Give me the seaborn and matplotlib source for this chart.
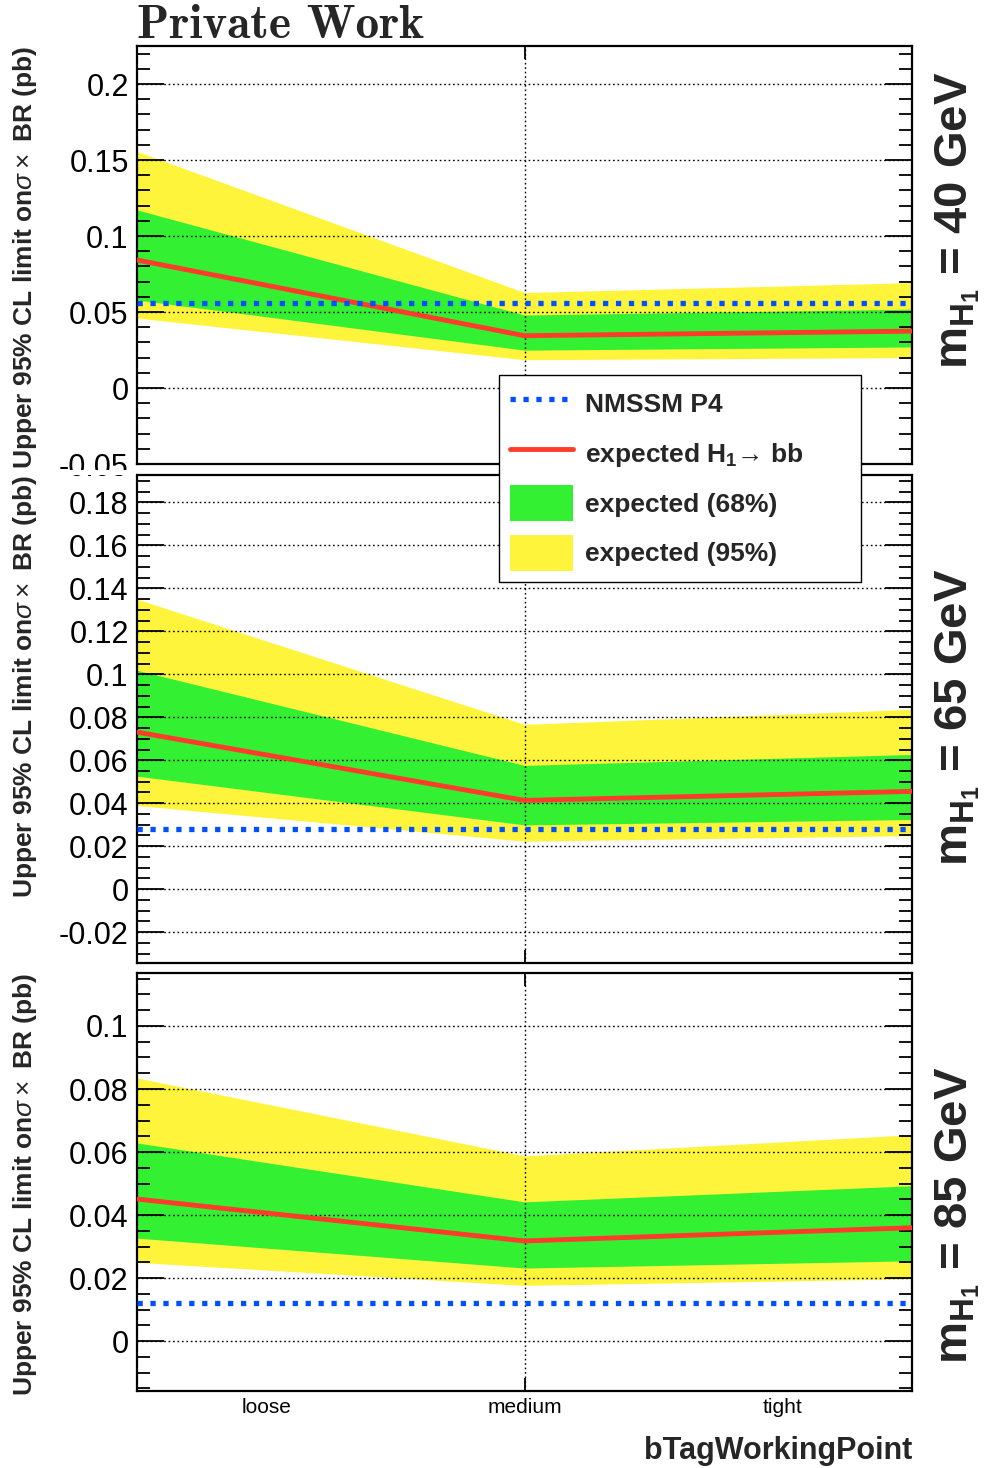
import numpy as np
import pandas as pd
import matplotlib
matplotlib.use("Agg")
import matplotlib.pyplot as plt
import seaborn as sns
from matplotlib.ticker import MultipleLocator, FuncFormatter, FixedLocator
from matplotlib.lines import Line2D
from matplotlib.patches import Patch, Rectangle

# ---------------- data ----------------
categories = ["loose", "medium", "tight"]
mass_labels = ["40", "65", "85"]

# m_H1 = 40 GeV
exp_40 = [0.0842, 0.0344, 0.0374]
g_lo_40 = [0.0579, 0.0249, 0.0270]
g_hi_40 = [0.1172, 0.0480, 0.0519]
y_lo_40 = [0.0460, 0.0186, 0.0200]
y_hi_40 = [0.1557, 0.0628, 0.0693]
nmssm_40 = 0.0561

# m_H1 = 65 GeV
exp_65 = [0.0731, 0.0413, 0.0455]
g_lo_65 = [0.0526, 0.0299, 0.0324]
g_hi_65 = [0.1019, 0.0576, 0.0627]
y_lo_65 = [0.0389, 0.0223, 0.0249]
y_hi_65 = [0.1350, 0.0767, 0.0837]
nmssm_65 = 0.0281

# m_H1 = 85 GeV
exp_85 = [0.0451, 0.0318, 0.0360]
g_lo_85 = [0.0327, 0.0232, 0.0255]
g_hi_85 = [0.0629, 0.0442, 0.0493]
y_lo_85 = [0.0250, 0.0177, 0.0198]
y_hi_85 = [0.0835, 0.0588, 0.0655]
nmssm_85 = 0.0121

ylims = [(-0.05, 0.225), (-0.0344, 0.1928), (-0.0158, 0.1168)]
major_steps = [0.05, 0.02, 0.02]
minor_steps = [0.01, 0.005, 0.005]

ylabel = r"Upper 95% CL limit on$\sigma\times$ BR (pb)"
xlabel = "bTagWorkingPoint"
title = "Private Work"
legend_labels = ["NMSSM P4", "expected H$_{\\mathbf{1}}$\u2192 bb",
                 "expected (68%)", "expected (95%)"]

# ---------------- style ----------------
sns.set_theme(style="ticks")
plt.rcParams["font.family"] = ["Liberation Sans", "DejaVu Sans"]
plt.rcParams["mathtext.fontset"] = "custom"
plt.rcParams["mathtext.rm"] = "Liberation Sans"
plt.rcParams["mathtext.bf"] = "Liberation Sans:bold"
plt.rcParams["mathtext.it"] = "Liberation Sans:italic"
plt.rcParams["mathtext.sf"] = "Liberation Sans"

YELLOW = "#fff43c"
GREEN = "#33f033"
RED = "#ff3b2a"
BLUE = "#0050ff"
DOT = (0, (1, 1.45))
GRID = (0, (1.2, 2.0))

W, H = 1000, 1468
fig = plt.figure(figsize=(W / 100, H / 100), dpi=100)


def rect(l, t, r, b):
    return [l / W, 1 - b / H, (r - l) / W, (b - t) / H]


rects = [rect(137, 46, 912, 464), rect(137, 475, 912, 963), rect(137, 973, 912, 1391)]
panels = [
    (exp_40, g_lo_40, g_hi_40, y_lo_40, y_hi_40, nmssm_40),
    (exp_65, g_lo_65, g_hi_65, y_lo_65, y_hi_65, nmssm_65),
    (exp_85, g_lo_85, g_hi_85, y_lo_85, y_hi_85, nmssm_85),
]
mass_y = [220, 717, 1215]

fmt = FuncFormatter(lambda v, _: f"{round(v, 4) + 0:g}")
pos = np.arange(len(categories))

for i, (r, (ex, glo, ghi, ylo, yhi, nm)) in enumerate(zip(rects, panels)):
    ax = fig.add_axes(r)
    ax.fill_between(pos, ylo, yhi, color=YELLOW, lw=0, zorder=1)
    ax.fill_between(pos, glo, ghi, color=GREEN, lw=0, zorder=1.1)
    df = pd.DataFrame({"pos": pos, "exp": ex, "nmssm": [nm] * len(pos)})
    sns.lineplot(data=df, x="pos", y="exp", ax=ax, color=RED, lw=3.5, zorder=3)
    sns.lineplot(data=df, x="pos", y="nmssm", ax=ax, color=BLUE, lw=3.8,
                 linestyle=DOT, zorder=3.2)
    ax.set_xlim(pos[0], pos[-1])
    ax.set_ylim(*ylims[i])
    ax.set_xlabel("")
    ax.set_ylabel("")
    ax.set_axisbelow(False)

    ax.yaxis.set_major_locator(MultipleLocator(major_steps[i]))
    ax.yaxis.set_minor_locator(MultipleLocator(minor_steps[i]))
    ax.yaxis.set_major_formatter(fmt)
    ax.tick_params(axis="y", which="major", direction="in", left=True, right=True,
                   length=19.5, width=1.3, labelsize=22, pad=6, color="black",
                   labelcolor="black")
    ax.tick_params(axis="y", which="minor", direction="in", left=True, right=True,
                   length=9.5, width=1.3, color="black")

    # x: category labels at bin centres, tick + grid at the middle category
    span = pos[-1] - pos[0]
    centres = pos[0] + span * (2 * pos + 1) / (2 * len(pos))
    ax.xaxis.remove_overlapping_locs = False
    ax.xaxis.set_major_locator(FixedLocator(centres))
    ax.xaxis.set_minor_locator(FixedLocator([pos[categories.index("medium")]]))
    if i == 2:
        ax.set_xticklabels(categories)
    else:
        ax.set_xticklabels([""] * len(categories))
    ax.tick_params(axis="x", which="major", length=0, labelsize=15, pad=5,
                   labelcolor="black")
    ax.tick_params(axis="x", which="minor", direction="in", top=True, bottom=True,
                   length=9.5, width=1.3, color="black")

    ax.grid(axis="y", which="major", color="black", linestyle=GRID, lw=1.0)
    ax.grid(axis="x", which="minor", color="black", linestyle=GRID, lw=1.0)
    ax.grid(axis="x", which="major", visible=False)

    for s in ax.spines.values():
        s.set_linewidth(1.6)
        s.set_color("black")
        s.set_visible(True)

    top = r[1] + r[3]
    fig.text(0.025, top, ylabel, rotation=90, ha="center", va="top",
             fontsize=19, fontweight="bold")
    fig.text(0.958, 1 - mass_y[i] / H,
             r"$\mathbf{m}_{\mathbf{H}_{\mathbf{1}}}$ = " + mass_labels[i] + " GeV",
             rotation=90, ha="center", va="center", fontsize=34, fontweight="bold")

# clip label overflowing panel 1 (ROOT pad edge)
fig.add_artist(Rectangle((0.03, 1 - 475 / H), 0.106, 5 / H, transform=fig.transFigure,
                         facecolor="white", edgecolor="none", zorder=5))

fig.text(137 / W, 1 - 38 / H, title, family=["cmb10", "cmr10", "DejaVu Serif"],
         fontsize=34, va="baseline", ha="left")
fig.text(912 / W, 1 - 1459 / H, xlabel, ha="right", va="baseline", fontsize=22,
         fontweight="bold")

handles = [Line2D([], [], color=BLUE, lw=3.8, linestyle=DOT),
           Line2D([], [], color=RED, lw=3.5),
           Patch(facecolor=GREEN, edgecolor="none"),
           Patch(facecolor=YELLOW, edgecolor="none")]
leg = fig.legend(handles, legend_labels, loc="upper left",
                 bbox_to_anchor=(499 / W, 1 - 584 / H, 362 / W, 209 / H),
                 mode="expand", borderaxespad=0,
                 prop={"weight": "bold", "size": 19, "family": ["Liberation Sans", "DejaVu Sans"]},
                 frameon=True, fancybox=False, edgecolor="black", framealpha=1,
                 handlelength=2.4, handleheight=1.75, handletextpad=0.45,
                 labelspacing=0.5, borderpad=0.4)
leg.get_frame().set_linewidth(1.0)
leg.set_zorder(10)

fig.savefig("out.png", dpi=100)
